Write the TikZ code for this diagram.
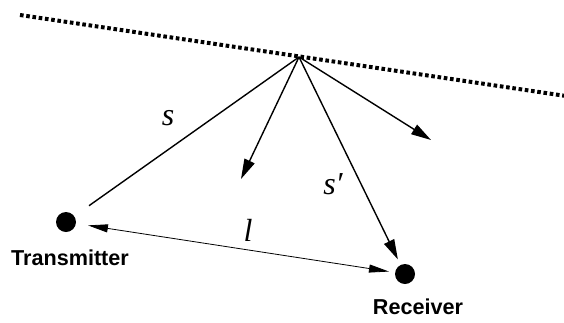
\documentclass[tikz,border=0pt]{standalone}
\usepackage{fontspec}
\setsansfont{Liberation Sans}
\newfontfamily\symfont{Liberation Serif}
\usetikzlibrary{arrows.meta}
\begin{document}
\begin{tikzpicture}[x=1pt,y=-1pt,
  wall/.style={line width=4pt, dash pattern=on 3.6pt off 2.7pt},
  ray/.style={line width=1.4pt, -{Triangle[length=20pt,width=11pt]}},
  dot/.style={circle, fill, inner sep=0pt, minimum width=20pt, minimum height=18pt},
  devname/.style={font=\sffamily\bfseries\fontsize{21.6}{26}\selectfont},
  symlabel/.style={font=\symfont\itshape\fontsize{32}{38}\selectfont}]
  \useasboundingbox (0,0) rectangle (564,322);
  \coordinate (w1) at (20,15);
  \coordinate (w2) at (566,96);
  \coordinate (p) at (299,57);
  \coordinate (e1) at (241,179);
  \coordinate (e2) at (431,140);
  \node[dot] (tx) at (66,222) {};
  \node[dot] (rx) at (405,274) {};
  \draw[wall] (w1) -- (w2);
  \draw[line width=1.4pt, shorten >=18pt] (p) -- (tx);
  \draw[ray] (p) -- (e1);
  \draw[ray] (p) -- (e2);
  \draw[ray, shorten >=6pt] (p) -- (rx);
  \draw[line width=0.8pt, {Triangle[length=20pt,width=8pt]}-{Triangle[length=20pt,width=8pt]},
    shorten <=12pt, shorten >=6pt] (tx) -- (rx);
  \node[symlabel] (ls) at (168,118) {s};
  \node[symlabel] (lsp) at (333,184) {s′};
  \node[symlabel] (ll) at (248,230) {l};
  \node[devname] (ltx) at (70,258) {Transmitter};
  \node[devname] (lrx) at (418,307) {Receiver};
\end{tikzpicture}
\end{document}
